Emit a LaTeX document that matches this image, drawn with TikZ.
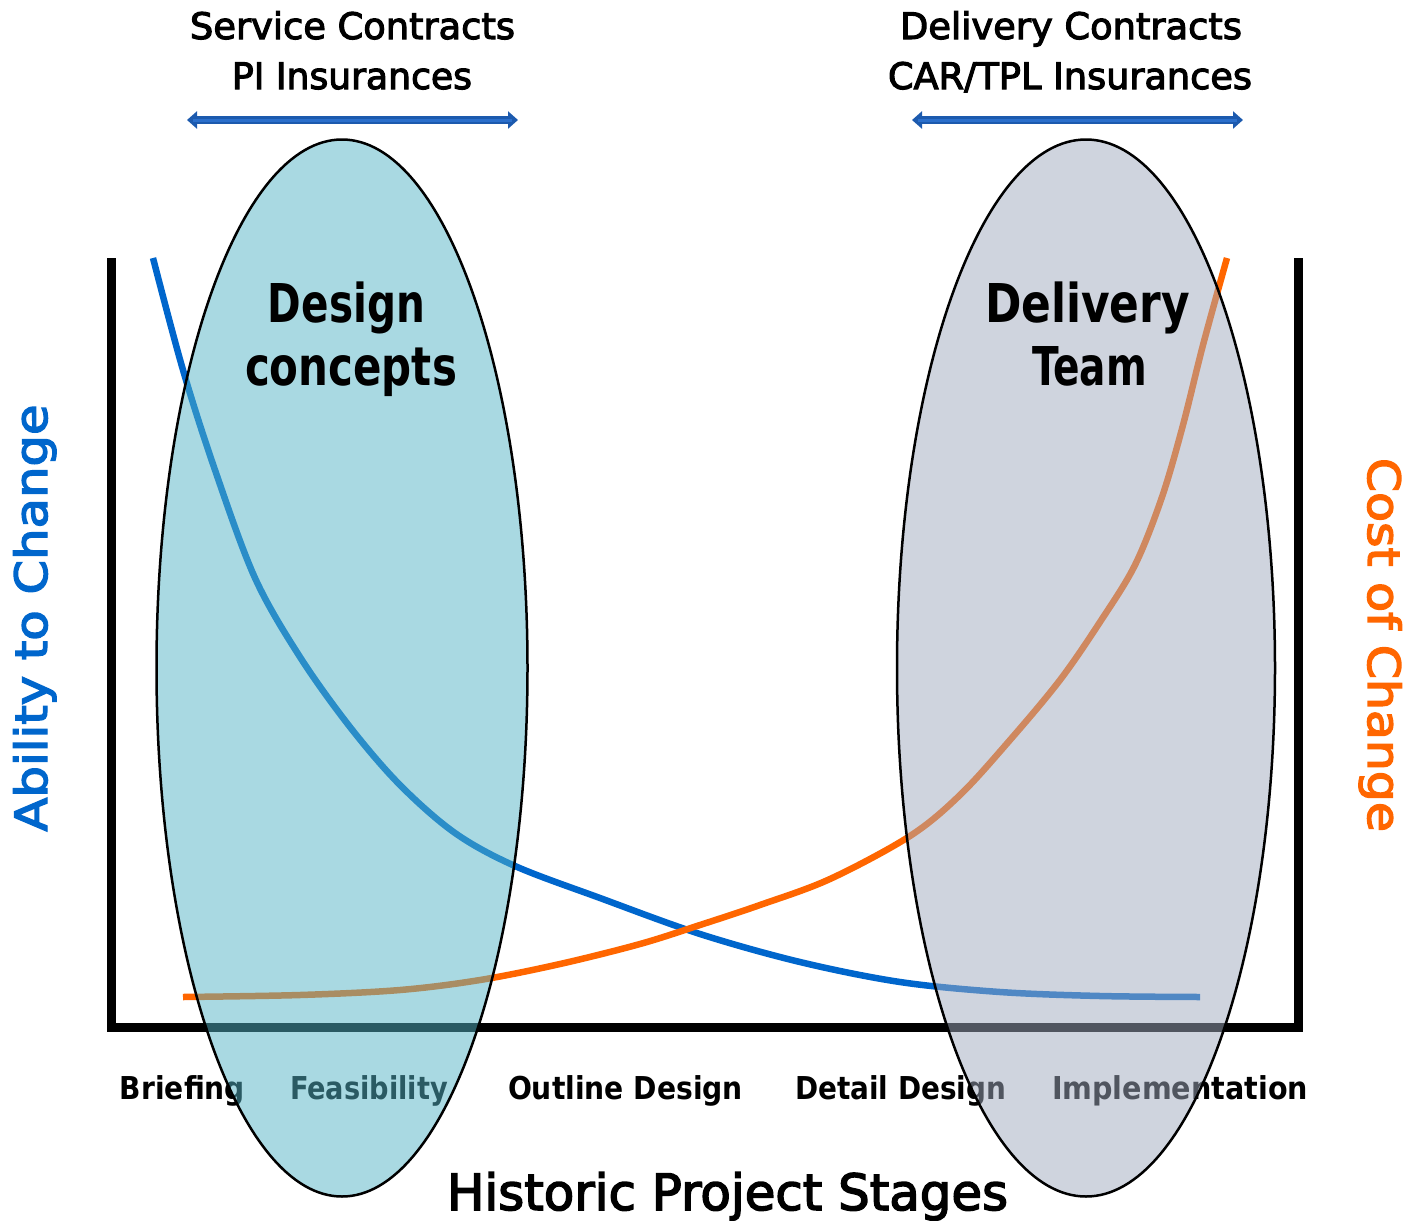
\documentclass[tikz,border=0pt]{standalone}
\usepackage{graphicx}
\usepackage{fontspec}
\setmainfont{DejaVu Sans}
\newfontfamily\medfont{DejaVu Sans}[FakeBold=3]
\usetikzlibrary{shapes.geometric,arrows.meta}
% squeeze a text to a given width, keeping its height
\newcommand{\fitto}[2]{\resizebox{#1}{\height}{#2}}
\definecolor{abilityblue}{HTML}{0066CC}
\definecolor{costorange}{HTML}{FF6600}
\definecolor{spanblue}{HTML}{2B6FCB}
\definecolor{spanedge}{HTML}{1C5AAE}
\definecolor{designfill}{HTML}{54B4C6}
\definecolor{teamfill}{HTML}{A0AABE}
\begin{document}
\begin{tikzpicture}[x=1pt,y=-1pt,
  heading/.style={anchor=base,inner sep=0pt,font=\medfont\fontsize{36.5}{40}\selectfont},
  bigword/.style={anchor=base,inner sep=0pt,font=\fontsize{53.5}{60}\selectfont\bfseries},
  stage/.style={anchor=base,inner sep=0pt,font=\fontsize{31.5}{36}\selectfont\bfseries},
  sidelabel/.style={anchor=base,inner sep=0pt,font=\medfont\fontsize{44.5}{50}\selectfont},
  frame/.style={line width=9pt,line join=miter},
  trend/.style={line width=6.5pt},
  span/.style={line width=7.5pt,{Triangle[length=10pt,width=17pt]}-{Triangle[length=10pt,width=17pt]}},
  group/.style={ellipse,draw=black,line width=2.5pt,fill opacity=.5,inner sep=0pt}
]
\useasboundingbox (0,0) rectangle (1414,1221);

% axes frame
\coordinate (ltop) at (111,258);
\coordinate (lbot) at (111,1027);
\coordinate (rbot) at (1298,1027);
\coordinate (rtop) at (1298,258);
\draw[frame] (ltop) -- (lbot) -- (rbot) -- (rtop);

% stage labels
\node[stage] (briefing) at (182.5,1099) {\fitto{125pt}{Briefing}};
\node[stage] (feas) at (369,1099) {\fitto{158pt}{Feasibility}};
\node[stage] (outline) at (625.5,1099) {\fitto{235pt}{Outline Design}};
\node[stage] (detail) at (900.5,1099) {\fitto{211pt}{Detail Design}};
\node[stage] (impl) at (1180,1099) {\fitto{256pt}{Implementation}};

% trend curves
\draw[trend,abilityblue] plot[smooth,tension=0.55] coordinates {
  (153,258) (183,370) (215,470) (255,578) (300,657) (350,727) (400,785)
  (455,833) (515,866) (600,898) (700,934) (800,962) (900,982) (1000,992)
  (1100,996) (1200,997)};
\draw[trend,costorange] plot[smooth,tension=0.55] coordinates {
  (183,997) (300,995) (400,990) (480,980) (560,964) (640,944) (700,925)
  (760,905) (830,879) (910,836) (960,795) (1010,740) (1060,680) (1100,622)
  (1135,565) (1162,497) (1183,425) (1203,345) (1227,258)};

% stage groups
\node[group,fill=designfill,minimum width=371pt,minimum height=1057pt] (designgroup) at (342,668) {};
\node[group,fill=teamfill,minimum width=378pt,minimum height=1057pt] (teamgroup) at (1086,668) {};

% group titles
\node[bigword] (design1) at (346.5,322) {\fitto{157pt}{Design}};
\node[bigword] (design2) at (351,385) {\fitto{212pt}{concepts}};
\node[bigword] (team1) at (1087.5,322) {\fitto{205pt}{Delivery}};
\node[bigword] (team2) at (1089.5,385) {\fitto{115pt}{Team}};

% contract headings and their spans
\node[heading] (svc1) at (352.5,39) {\fitto{325pt}{Service Contracts}};
\node[heading] (svc2) at (352,89) {\fitto{240pt}{PI Insurances}};
\node[heading] (dlv1) at (1071,39) {\fitto{342pt}{Delivery Contracts}};
\node[heading] (dlv2) at (1070,89) {\fitto{364pt}{CAR/TPL Insurances}};
\coordinate (svcL) at (187,120);
\coordinate (svcR) at (518,120);
\coordinate (dlvL) at (912,120);
\coordinate (dlvR) at (1243,120);
\draw[span,spanedge] (svcL) -- (svcR);
\draw[span,spanedge] (dlvL) -- (dlvR);
\draw[line width=3pt,spanblue,shorten <=6pt,shorten >=6pt] (svcL) -- (svcR);
\draw[line width=3pt,spanblue,shorten <=6pt,shorten >=6pt] (dlvL) -- (dlvR);

% axis titles
\node[sidelabel,rotate=90,text=abilityblue] (ability) at (47,618) {\fitto{427pt}{Ability to Change}};
\node[sidelabel,rotate=-90,text=costorange] (cost) at (1368,645) {\fitto{374pt}{Cost of Change}};
\node[anchor=base,inner sep=0pt,font=\medfont\fontsize{50}{56}\selectfont] (stages) at (727.5,1210) {\fitto{561pt}{Historic Project Stages}};
\end{tikzpicture}
\end{document}
